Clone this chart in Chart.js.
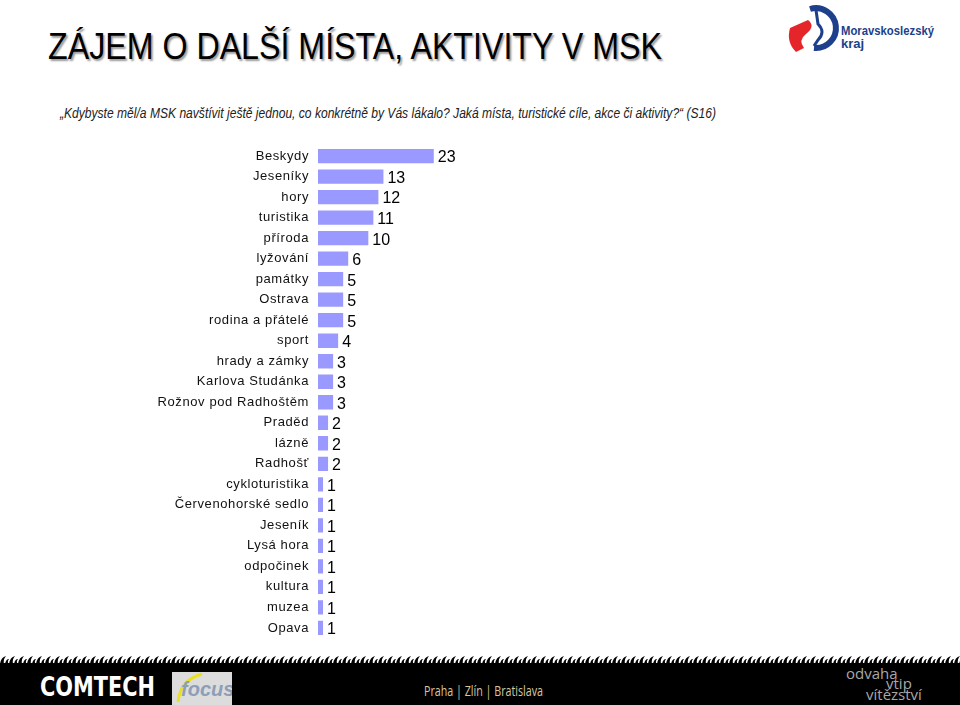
<!DOCTYPE html>
<html lang="cs">
<head>
<meta charset="utf-8">
<title>Zájem o další místa, aktivity v MSK</title>
<script src="https://cdn.jsdelivr.net/npm/chart.js@4/dist/chart.umd.min.js"></script>
<style>
  html, body { margin: 0; padding: 0; }
  body { width: 960px; height: 705px; position: relative; overflow: hidden; background: #fff; font-family: "Liberation Sans", Arial, sans-serif; }
  .fit { position: absolute; white-space: nowrap; transform-origin: 0 0; }
  #title { left: 48px; top: 28px; font-size: 37px; line-height: 37px; color: #000; text-shadow: 2px 2px 2px #9a9a9a; font-family: "Liberation Sans Narrow", "Liberation Sans", Arial, sans-serif; }
  #subtitle { left: 60px; top: 105px; font-size: 14px; line-height: 16px; font-style: italic; color: #222; font-family: "Liberation Sans Narrow", "Liberation Sans", Arial, sans-serif; }
  #logo { position: absolute; left: 786px; top: 2px; }
  #chartBox { position: absolute; left: 0; top: 129px; width: 620px; height: 526px; }
  #footer { position: absolute; left: 0; top: 654px; width: 960px; height: 51px; }
  #comtech { left: 40px; top: 672px; font-size: 27px; line-height: 30px; font-weight: bold; color: #fff; font-family: "DejaVu Sans", sans-serif; }
  #focus { position: absolute; left: 172px; top: 672px; width: 60px; height: 33px; background: #dcdcdc; overflow: hidden; }
  #focus span { position: absolute; left: 9px; top: 6px; font: italic bold 20px "Liberation Sans", Arial, sans-serif; color: #8d9fb8; }
  #cities { left: 424px; top: 683px; font-size: 14px; line-height: 16px; color: #d8c8a0; font-family: "Open Sans", sans-serif; }
  .motto { position: absolute; font-size: 15px; line-height: 15px; color: #a8a8a8; font-family: "Open Sans", sans-serif; }
</style>
</head>
<body>
<div id="title" class="fit" data-w="614">ZÁJEM O DALŠÍ MÍSTA, AKTIVITY V MSK</div>
<div id="subtitle" class="fit" data-w="656">„Kdybyste měl/a MSK navštívit ještě jednou, co konkrétně by Vás lákalo? Jaká místa, turistické cíle, akce či aktivity?“ (S16)</div>

<svg id="logo" width="160" height="56" viewBox="0 0 160 56">
  <path d="M24 7 A20 20 0 1 1 28 46" fill="none" stroke="#1d3f8c" stroke-width="6"/>
  <path d="M4 26 L22 18 Q30 24 20 32 Q12 38 18 46 L10 50 Q0 40 4 26 Z" fill="#e4262b"/>
  <path d="M30 8 L32 22 Q40 30 32 38 L28 44" fill="none" stroke="#1d3f8c" stroke-width="3"/>
  <text x="55" y="33" font-family="Liberation Sans, Arial, sans-serif" font-size="13" font-weight="bold" fill="#1d3f8c" textLength="93" lengthAdjust="spacingAndGlyphs">Moravskoslezský</text>
  <text x="55" y="46" font-family="Liberation Sans, Arial, sans-serif" font-size="13" font-weight="bold" fill="#1d3f8c">kraj</text>
</svg>

<div id="chartBox"><canvas id="myChart"></canvas></div>

<svg id="footer" width="960" height="51" viewBox="0 0 960 51">
  <defs>
    <pattern id="grass" x="0" y="0" width="9" height="10" patternUnits="userSpaceOnUse">
      <path d="M0 10 Q1 3 6 2 Q3 5 4 10 Z M5 10 Q6 5 9 5 Q7 7 8 10 Z" fill="#000"/>
    </pattern>
  </defs>
  <rect x="0" y="0" width="960" height="10" fill="url(#grass)"/>
  <rect x="0" y="9" width="960" height="42" fill="#000"/>
</svg>
<div id="comtech" class="fit" data-w="115">COMTECH</div>
<div id="focus">
  <svg width="60" height="33" style="position:absolute;left:0;top:0">
    <path d="M6 30 Q8 8 30 2" fill="none" stroke="#e8e020" stroke-width="3"/>
  </svg>
  <span>focus</span>
</div>
<div id="cities" class="fit" data-w="119">Praha | Zlín | Bratislava</div>
<div class="motto" style="left:846px;top:666px">odvaha</div>
<div class="motto" style="left:886px;top:676px">vtip</div>
<div class="motto" style="left:866px;top:687px">vítězství</div>

<script>
// squeeze headline texts to the width they have in the slide
document.querySelectorAll('.fit').forEach(function(el){
    const w = el.getBoundingClientRect().width;
    el.style.transform = 'scaleX(' + (parseFloat(el.dataset.w) / w) + ')';
});

const categories = ["Beskydy", "Jeseníky", "hory", "turistika", "příroda", "lyžování", "památky", "Ostrava",
    "rodina a přátelé", "sport", "hrady a zámky", "Karlova Studánka", "Rožnov pod Radhoštěm", "Praděd",
    "lázně", "Radhošť", "cykloturistika", "Červenohorské sedlo", "Jeseník", "Lysá hora", "odpočinek",
    "kultura", "muzea", "Opava"];
const counts = [23, 13, 12, 11, 10, 6, 5, 5, 5, 4, 3, 3, 3, 2, 2, 2, 1, 1, 1, 1, 1, 1, 1, 1];

// spaced out category labels, like the original slide
const spacing = {
    id: 'spacing',
    beforeDraw(chart) { chart.ctx.letterSpacing = '0.6px'; },
    afterDraw(chart) { chart.ctx.letterSpacing = '0px'; }
};

// value next to the end of each bar
const valueLabels = {
    id: 'valueLabels',
    afterDatasetsDraw(chart) {
        const ctx = chart.ctx;
        ctx.save();
        ctx.letterSpacing = '0px';
        ctx.font = '16px "Liberation Sans", Arial, sans-serif';
        ctx.fillStyle = '#000';
        ctx.textAlign = 'left';
        ctx.textBaseline = 'middle';
        chart.getDatasetMeta(0).data.forEach(function(bar, i){
            ctx.fillText(String(counts[i]), bar.x + 4, bar.y + 2);
        });
        ctx.restore();
    }
};

const data = {
    labels: categories,
    datasets: [{
        data: counts,
        backgroundColor: "#9999ff",
        borderWidth: 0,
        categoryPercentage: 1,
        barPercentage: 0.7
    }]
};

const config = {
    type: 'bar',
    data: data,
    options: {
        indexAxis: 'y',
        responsive: true,
        maintainAspectRatio: false,
        animation: false,
        layout: { padding: { top: 5, bottom: 8, left: 0, right: 0 } },
        plugins: {
            legend: { display: false },
            tooltip: { enabled: false }
        },
        scales: {
            x: { display: false, min: 0, max: 60 },
            y: {
                grid: { display: false, drawTicks: false },
                border: { display: false },
                ticks: {
                    padding: 9,
                    color: '#111',
                    font: { family: '"Liberation Sans", Arial, sans-serif', size: 13 }
                },
                afterFit: function(scale){ scale.width = 318; }
            }
        }
    },
    plugins: [spacing, valueLabels]
};

const myChart = new Chart(
    document.getElementById('myChart'),
    config
);
</script>
</body>
</html>
